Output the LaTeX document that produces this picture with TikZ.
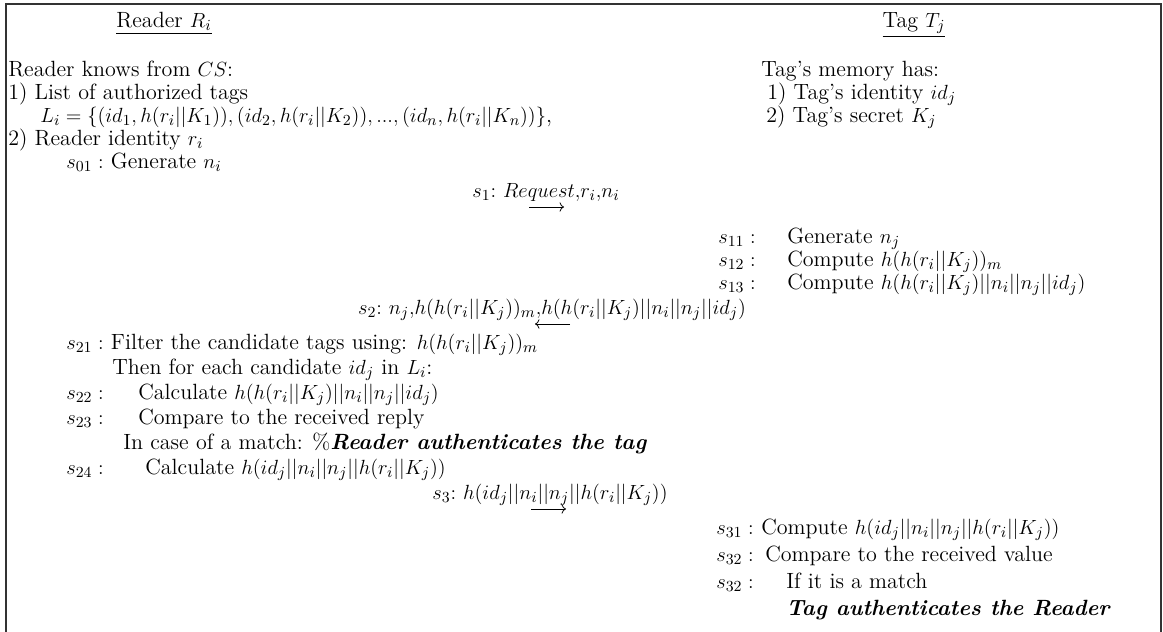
\documentclass[tikz,border=0pt]{standalone}
\usetikzlibrary{arrows.meta}
\newcommand{\myBody}{\fontsize{12.9}{15}\selectfont}
\newcommand{\myLab}{\fontsize{12.3}{14}\selectfont}
\begin{document}
\begin{tikzpicture}[x=0.585pt,y=-0.585pt]
\tikzset{
  txt/.style={anchor=mid west, inner sep=0pt, font=\myBody},
  head/.style={anchor=mid, inner sep=0pt, font=\myBody},
  msg/.style={anchor=mid, inner sep=0pt, font=\myLab},
  frameline/.style={line width=1pt, draw=black!80},
  msgarrow/.style={->, line width=0.45pt}
}
\useasboundingbox (0,0) rectangle (1163,632);
\draw[frameline] (6,632) -- (6,4) -- (1161,4) -- (1161,632);

% headers
\node[head] (hr) at (164,24) {\underline{Reader $R_i$}};
\node[head] (ht) at (914,24) {\underline{Tag $T_j$}};

% reader knowledge
\node[txt] (r1) at (8,73) {Reader knows from $CS$:};
\node[txt] (r2) at (8,96) {1) List of authorized tags};
\node[txt] (r3) at (40,119) {$L_i=\{(id_1,h(r_i||K_1)),(id_2,h(r_i||K_2)),...,(id_n,h(r_i||K_n))\}$,};
\node[txt] (r4) at (8,142) {2) Reader identity $r_i$};
\node[txt] (r5) at (66,165) {$s_{01}:$ Generate $n_i$};

% tag memory
\node[txt] (t1) at (761,73) {Tag’s memory has:};
\node[txt] (t2) at (767,96) {1) Tag’s identity $id_j$};
\node[txt] (t3) at (766,119) {2) Tag’s secret $K_j$};

% message 1
\node[msg] (m1) at (546,194) {$s_1{:}\ Request{,}r_i{,}n_i$};
\coordinate (m1a) at (529,207);
\coordinate (m1b) at (564,207);
\draw[msgarrow] (m1a) -- (m1b);

% tag steps 1
\node[txt] (s11) at (718,240) {$s_{11}:$};
\node[txt] (s11t) at (787,240) {Generate $n_j$};
\node[txt] (s12) at (718,263) {$s_{12}:$};
\node[txt] (s12t) at (787,263) {Compute $h(h(r_i||K_j))_m$};
\node[txt] (s13) at (718,286) {$s_{13}:$};
\node[txt] (s13t) at (787,286) {Compute $h(h(r_i||K_j)||n_i||n_j||id_j)$};

% message 2
\node[msg] (m2) at (552,311) {$s_2{:}\ n_j{,}h(h(r_i||K_j))_m{,}h(h(r_i||K_j)||n_i||n_j||id_j)$};
\coordinate (m2a) at (535,324);
\coordinate (m2b) at (570,324);
\draw[msgarrow] (m2b) -- (m2a);

% reader steps
\node[txt] (s21) at (66,346) {$s_{21}:$ Filter the candidate tags using: $h(h(r_i||K_j))_m$};
\node[txt] (s21b) at (112,371) {Then for each candidate $id_j$ in $L_i$:};
\node[txt] (s22) at (66,396) {$s_{22}:$};
\node[txt] (s22t) at (138,396) {Calculate $h(h(r_i||K_j)||n_i||n_j||id_j)$};
\node[txt] (s23) at (66,421) {$s_{23}:$};
\node[txt] (s23t) at (138,421) {Compare to the received reply};
\node[txt] (s23b) at (123,446) {In case of a match: \%\textbf{\textit{Reader authenticates the tag}}};
\node[txt] (s24) at (66,471) {$s_{24}:$};
\node[txt] (s24t) at (145,471) {Calculate $h(id_j||n_i||n_j||h(r_i||K_j))$};

% message 3
\node[msg] (m3) at (550,496) {$s_3{:}\ h(id_j||n_i||n_j||h(r_i||K_j))$};
\coordinate (m3a) at (531,509);
\coordinate (m3b) at (566,509);
\draw[msgarrow] (m3a) -- (m3b);

% tag steps 3
\node[txt] (s31) at (716,531) {$s_{31}:$};
\node[txt] (s31t) at (761,531) {Compute $h(id_j||n_i||n_j||h(r_i||K_j))$};
\node[txt] (s32) at (716,558) {$s_{32}:$};
\node[txt] (s32t) at (765,558) {Compare to the received value};
\node[txt] (s33) at (716,585) {$s_{32}:$};
\node[txt] (s33t) at (786,585) {If it is a match};
\node[txt] (s34) at (786,612) {\textbf{\textit{Tag authenticates the Reader}}};
\end{tikzpicture}
\end{document}
